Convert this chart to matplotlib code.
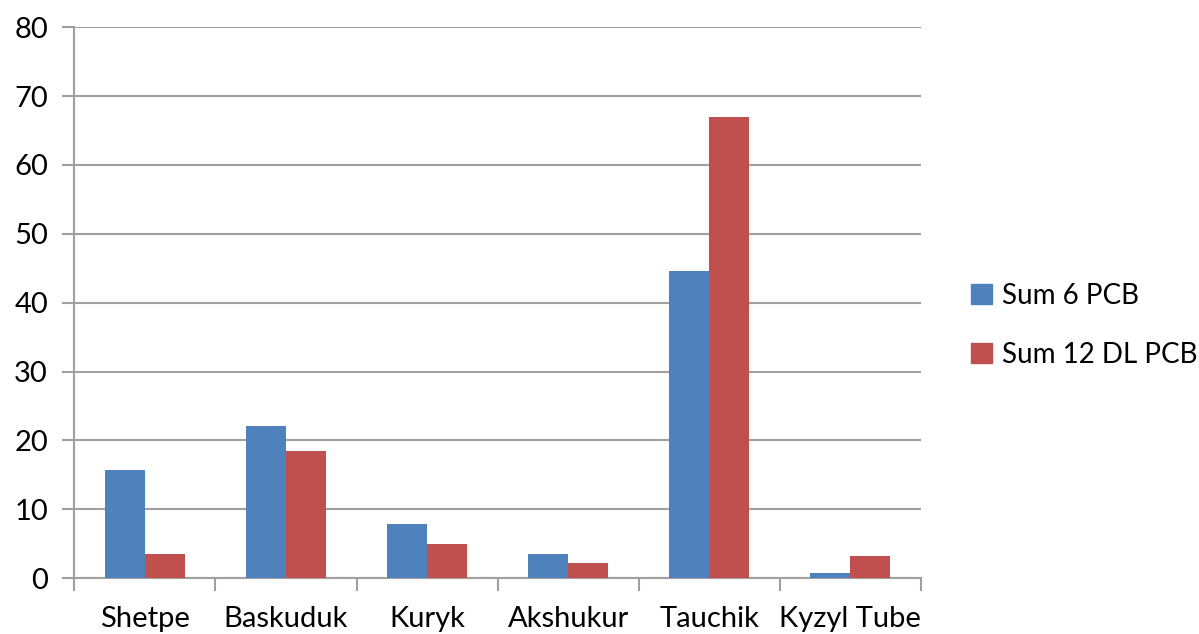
import matplotlib
matplotlib.use("Agg")
from matplotlib import pyplot as plt
from matplotlib.patches import Patch
import numpy as np

sites = ["Shetpe", "Baskuduk", "Kuryk", "Akshukur", "Tauchik", "Kyzyl Tube"]
sum6_pcb = [15.7, 22.1, 7.9, 3.5, 44.6, 0.7]
sum12_dl_pcb = [3.5, 18.4, 4.9, 2.2, 66.9, 3.2]
series_names = ["Sum 6 PCB", "Sum 12 DL PCB"]
yticks = [0, 10, 20, 30, 40, 50, 60, 70, 80]

blue = "#4F81BD"
red = "#C0504D"
grey = "#A0A0A0"

plt.rcParams['font.family'] = ['Lato', 'DejaVu Sans']

fig = plt.figure(figsize=(11.99, 6.34), dpi=100)
ax = fig.add_axes([0.062, 0.088, 0.706, 0.869])

x = np.arange(len(sites))
w = 0.285
ax.bar(x - w / 2, sum6_pcb, w, color=blue, zorder=3)
ax.bar(x + w / 2, sum12_dl_pcb, w, color=red, zorder=3)

ax.set_xlim(-0.5, len(sites) - 0.5)
ax.set_ylim(0, 80)
ax.set_yticks(yticks)
ax.set_yticklabels([str(t) for t in yticks], fontsize=21)
ax.yaxis.grid(True, color=grey, linewidth=1.5, zorder=0)

# category labels in the middle, ticks on the boundaries
ax.set_xticks(x)
ax.set_xticklabels(sites, fontsize=21)
ax.tick_params(axis='x', length=0, pad=20)
ax.set_xticks(np.arange(-0.5, len(sites)), minor=True)
ax.tick_params(axis='x', which='minor', length=9, width=1.5, color=grey)
ax.tick_params(axis='y', length=9, width=1.5, color=grey, pad=10)

for s in ["top", "right"]:
    ax.spines[s].set_visible(False)
for s in ["left", "bottom"]:
    ax.spines[s].set_color(grey)
    ax.spines[s].set_linewidth(1.5)

handles = [Patch(color=blue), Patch(color=red)]
fig.legend(handles, series_names, loc='center left', bbox_to_anchor=(0.81, 0.487),
           frameon=False, fontsize=20, handlelength=0.75, handleheight=0.75,
           handletextpad=0.35, labelspacing=1.2, borderpad=0, borderaxespad=0)

fig.savefig("out.png", dpi=100)
